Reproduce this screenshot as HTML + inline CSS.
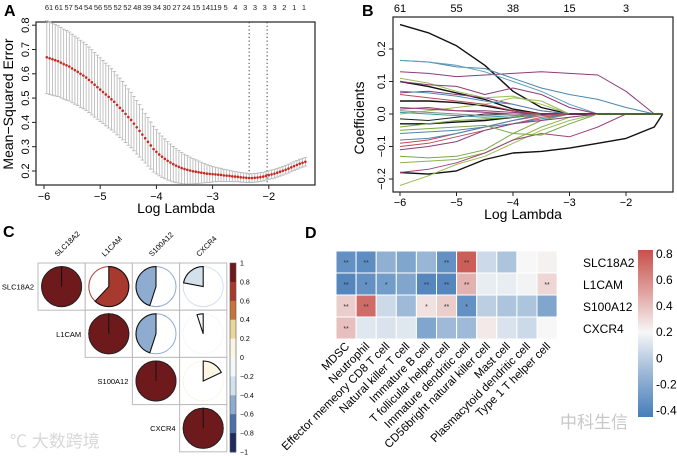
<!DOCTYPE html>
<html><head><meta charset="utf-8">
<style>
html,body{margin:0;padding:0;background:#fff;}
svg{display:block;font-family:"Liberation Sans","Noto Sans CJK SC",sans-serif;}
</style></head>
<body>
<svg id="fig" width="677" height="456" viewBox="0 0 677 456" xmlns="http://www.w3.org/2000/svg">
<text x="4" y="16" font-size="16" font-weight="bold">A</text>
<text x="362" y="16" font-size="16" font-weight="bold">B</text>
<text x="3" y="237" font-size="16" font-weight="bold">C</text>
<text x="305" y="238" font-size="16" font-weight="bold">D</text>
<g id="pa"></g>
<g id="pb"></g>
<g id="pc"></g>
<g id="pd"></g>
<text x="10" y="447" font-size="17" fill="#d8d8d8">℃ 大数跨境</text>
<text x="560" y="428" font-size="17" fill="#c8c8c8">中科生信</text>
</svg>
<script>
// ---------- Panel A data ----------
const aLambda0 = -5.95, aStep = 0.05;
const aMse = [.668,.664,.66,.656,.652,.646,.64,.635,.63,.622,
.615,.608,.6,.593,.585,.575,.565,.555,.545,.535,
.525,.515,.505,.495,.485,.472,.46,.448,.435,.422,
.41,.395,.38,.365,.35,.335,.32,.305,.29,.279,
.268,.259,.25,.242,.235,.228,.222,.217,.212,.208,
.205,.202,.199,.197,.195,.193,.191,.189,.188,.187,
.186,.185,.184,.182,.181,.18,.178,.177,.176,.174,
.173,.172,.171,.171,.172,.173,.175,.177,.18,.183,
.186,.189,.193,.197,.201,.205,.21,.215,.22,.225,
.23,.234,.238];
const aSe = [.15,.149,.148,.147,.146,.145,.144,.143,.142,.141,
.14,.139,.138,.137,.136,.135,.134,.133,.132,.131,
.13,.129,.128,.126,.125,.123,.122,.12,.118,.116,
.114,.112,.11,.108,.105,.102,.1,.097,.094,.091,
.088,.085,.082,.079,.076,.073,.07,.067,.064,.061,
.058,.055,.052,.049,.046,.043,.04,.037,.035,.032,
.03,.028,.027,.025,.024,.023,.022,.021,.02,.02,
.019,.019,.018];
const aTopLabels = ["61","61","57","54","54","56","55","52","52","48","39","34","30","27","24","15","14","119","5","4","3","3","3","3","2","1","1"];
const aXTicks = [-6,-5,-4,-3,-2];
const aYTicks = [0.2,0.3,0.4,0.5,0.6,0.7,0.8];
const aVLines = [-2.35,-2.03];
// ---------- Panel B data ----------
const bLambda = [-6,-5.5,-5,-4.5,-4,-3.5,-3,-2.5,-2,-1.5,-1.35];
const bPaths = [
[0.275,0.25,0.21,0.15,0.07,0.02,0],
[0.13,0.125,0.115,0.12,0.125,0.13,0.125,0.12,0.07,0,0],
[0.165,0.16,0.145,0.14,0.11,0.08,0.06,0.045,0.02,0],
[-0.18,-0.185,-0.175,-0.14,-0.12,-0.115,-0.105,-0.09,-0.075,-0.04,0],
[-0.22,-0.19,-0.155,-0.13,-0.09,-0.05,-0.02,0],
[-0.15,-0.145,-0.14,-0.12,-0.08,-0.04,-0.01,0],
[-0.18,-0.17,-0.15,-0.12,-0.08,-0.06,-0.07,-0.04,0],
[-0.13,-0.135,-0.13,-0.11,-0.06,-0.02,0],
[0.1,0.085,0.065,0.045,0.015,0],
[0.065,0.07,0.06,0.05,0.03,0.01,0],
[0.165,0.16,0.15,0.13,0.1,0.07,0.03,0],
[0.11,0.095,0.07,0.05,0.055,0.03,0],
[0.1,0.09,0.085,0.06,0.08,0.06,0.02,0],
[0.04,0.04,0.035,0.025,0.01,0],
[-0.1,-0.09,-0.07,-0.05,-0.03,-0.01,0],
[-0.06,-0.055,-0.05,-0.04,-0.03,-0.015,0],
[-0.03,-0.03,-0.025,-0.02,-0.01,0],
[-0.015,-0.02,-0.01,0,0],
[-0.09,-0.08,-0.06,-0.04,-0.02,-0.005,0],
[0,0.01,0.02,0.03,0.05,0.04,0],
[0.02,0.015,0.01,0.01,0.005,0],
[-0.08,-0.075,-0.06,-0.04,-0.02,0],
[0.005,0,-0.005,-0.01,-0.005,0],
[0.06,0.05,0.04,0.03,0.01,0],
[-0.04,-0.03,-0.02,-0.015,-0.01,0],
[-0.11,-0.1,-0.085,-0.05,-0.03,-0.02,-0.01,0],
[0.01,0.005,0,-0.005,0],
[0.07,0.065,0.055,0.04,0.03,0.01,0],
[0.015,0.02,0.01,0.005,0],
[-0.05,-0.045,-0.04,-0.035,-0.06,-0.065,-0.03,0]
];
const bColors = ["#111","#8e3b7a","#4f86b0","#111","#9cbc55","#8fb050","#a0427a","#7aa845","#111","#8e3b7a","#5aa0b8","#9cbc55","#8e3b7a","#111","#c0485a","#4f86b0","#111","#222","#c0485a","#9cbc55","#8e3b7a","#4f86b0","#3a9a9a","#c0485a","#7aa845","#8e3b7a","#888","#4f86b0","#a0427a","#7aa845"];
const bTopLabels = ["61","55","38","15","3"];
const bTopPos = [-6,-5,-4,-3,-2];
const bXTicks = [-6,-5,-4,-3,-2];
const bYTicks = [-0.2,-0.1,0.0,0.1,0.2];
// ---------- Panel C data ----------
const cGenes = ["SLC18A2","L1CAM","S100A12","CXCR4"];
const cCorr = [[1,0.62,-0.45,-0.22],[0.62,1,-0.45,-0.05],[-0.45,-0.45,1,0.18],[-0.22,-0.05,0.18,1]];
const cTicks = [1,0.8,0.6,0.4,0.2,0,-0.2,-0.4,-0.6,-0.8,-1];
const cBandColors = ["#6e1a1d","#a8392e","#c7753d","#ecd79a","#fbf6e4","#f5f8fb","#d3e1ed","#8eaccf","#4d70a6","#1d2c5c"];
// ---------- Panel D data ----------
const dCells = ["MDSC","Neutrophil","Effector memeory CD8 T cell","Natural killer T cell","Immature  B cell","T follicular helper cell","Immature dendritic cell","CD56bright natural killer cell","Mast cell","Plasmacytoid dendritic cell","Type 1 T helper cell"];
const dGenes = ["SLC18A2","L1CAM","S100A12","CXCR4"];
const dVals = [
[-0.3,-0.32,-0.15,-0.2,-0.12,-0.3,0.75,0.05,-0.05,0.2,0.22],
[-0.35,-0.3,-0.25,-0.2,-0.35,-0.35,0.45,0.15,0.15,0.18,0.32],
[0.35,0.7,0.05,-0.1,0.28,0.35,-0.3,0.0,-0.05,-0.05,-0.2],
[0.4,0.12,0.1,0.12,-0.2,-0.1,-0.1,0.25,0.1,0.05,0.2]];
const dStars = [
["**","**","","","","**","**","","","",""],
["**","*","*","","**","**","**","","","","**"],
["**","**","","","*","**","*","","","",""],
["**","","","","","","","","","",""]];
const dTicks = [0.8,0.6,0.4,0.2,0,-0.2,-0.4];

const NS="http://www.w3.org/2000/svg";
function mk(parent,tag,attrs,text){const e=document.createElementNS(NS,tag);for(const k in attrs)e.setAttribute(k,attrs[k]);if(text!==undefined)e.textContent=text;parent.appendChild(e);return e;}

// ================= Panel A =================
(function(){
const g=document.getElementById('pa');
const X=v=>44+(v+6)*56.2, Y=v=>171-(v-0.2)*243;
let r=mk(g,'rect',{x:36,y:22,width:279,height:163,fill:'none',stroke:'#222','stroke-width':1.2});

aXTicks.forEach(t=>{mk(g,'line',{x1:X(t),x2:X(t),y1:185,y2:189,stroke:'#222'});
 let tx=mk(g,'text',{x:X(t),y:200,'font-size':11,'text-anchor':'middle'},'\u2212'+Math.abs(t));
 });
aYTicks.forEach(t=>{mk(g,'line',{x1:32,x2:36,y1:Y(t),y2:Y(t),stroke:'#222'});
 let tx=mk(g,'text',{x:0,y:0,'font-size':11,'text-anchor':'middle',transform:`translate(29,${Y(t)}) rotate(-90)`},t.toFixed(1));
 });
let yl=mk(g,'text',{x:0,y:0,'font-size':14,'text-anchor':'middle',transform:'translate(13,104) rotate(-90)'},'Mean\u2212Squared Error');

let xl=mk(g,'text',{x:176,y:213,'font-size':14,'text-anchor':'middle'},'Log Lambda');

aTopLabels.forEach((s,i)=>{let tx=mk(g,'text',{x:49+i*(304-49)/(aTopLabels.length-1),y:10,'font-size':7.5,'text-anchor':'middle',fill:'#222'},s);
 });
aVLines.forEach(v=>{let l=mk(g,'line',{x1:X(v),x2:X(v),y1:22,y2:185,stroke:'#333','stroke-dasharray':'1.2,2.5'});
 });
aMse.forEach((m,i)=>{const lam=aLambda0+i*aStep, s=aSe[i]||0.018, x=X(lam);
 let eb=mk(g,'path',{d:`M${x},${Y(m+s)}V${Y(m-s)}M${x-1.8},${Y(m+s)}H${x+1.8}M${x-1.8},${Y(m-s)}H${x+1.8}`,stroke:'#b4b4b4','stroke-width':0.8,fill:'none'});
 });
aMse.forEach((m,i)=>{const lam=aLambda0+i*aStep;
 let c=mk(g,'circle',{cx:X(lam),cy:Y(m),r:1.3,fill:'#c62a22'});
 });
})();

// ================= Panel B =================
(function(){
const g=document.getElementById('pb');
const X=v=>400+(v+6)*56.5, Y=v=>114-v*325;
let r=mk(g,'rect',{x:393,y:17,width:280,height:175,fill:'none',stroke:'#222','stroke-width':1.2});

bXTicks.forEach(t=>{mk(g,'line',{x1:X(t),x2:X(t),y1:192,y2:196,stroke:'#222'});
 let tx=mk(g,'text',{x:X(t),y:206,'font-size':11,'text-anchor':'middle'},'\u2212'+Math.abs(t));
 });
bYTicks.forEach(t=>{mk(g,'line',{x1:389,x2:393,y1:Y(t),y2:Y(t),stroke:'#222'});
 let tx=mk(g,'text',{x:0,y:0,'font-size':11,'text-anchor':'middle',transform:`translate(385,${Y(t)}) rotate(-90)`},(t<0?'\u2212':'')+Math.abs(t).toFixed(1));
 });
bTopLabels.forEach((s,i)=>{let tx=mk(g,'text',{x:X(bTopPos[i]),y:12,'font-size':11,'text-anchor':'middle'},s);
 });
let yl=mk(g,'text',{x:0,y:0,'font-size':14,'text-anchor':'middle',transform:'translate(364,118) rotate(-90)'},'Coefficients');

let xl=mk(g,'text',{x:523,y:219,'font-size':14,'text-anchor':'middle'},'Log Lambda');

bPaths.forEach((p,k)=>{let d='';bLambda.forEach((l,i)=>{const v=i<p.length?p[i]:0;d+=(i?'L':'M')+X(l).toFixed(1)+','+Y(v).toFixed(1);});
 let pa=mk(g,'path',{d:d,fill:'none',stroke:bColors[k%bColors.length],'stroke-width':(bColors[k]=='#111'?1.4:1),'stroke-linejoin':'round'});
 });
})();

// ================= Panel C =================
(function(){
const g=document.getElementById('pc');
const x0=38,y0=263,cw=47.2,ch=47.2;
function colorOf(v){let i=Math.floor((1-v)/0.2+1e-9);if(i<0)i=0;if(i>9)i=9;return cBandColors[i];}
cGenes.forEach((gn,j)=>{let tx=mk(g,'text',{x:0,y:0,'font-size':7.5,transform:`translate(${x0+j*cw+cw/2-4},${y0-6}) rotate(-45)`},gn);
 });
cGenes.forEach((gn,i)=>{let tx=mk(g,'text',{x:x0+i*cw-4,y:y0+i*ch+ch/2+3,'font-size':7.5,'text-anchor':'end'},gn);
 
 for(let j=i;j<4;j++){const cx=x0+j*cw+cw/2, cy=y0+i*ch+ch/2, R=20, v=cCorr[i][j];
  let cell=mk(g,'rect',{x:x0+j*cw,y:y0+i*ch,width:cw,height:ch,fill:'#fff',stroke:'#bbb','stroke-width':1});
  
  const col=colorOf(v);
  let bg=mk(g,'circle',{cx:cx,cy:cy,r:R,fill:'#fff',stroke:col,'stroke-width':1});
  
  let pie;
  if(Math.abs(v)>=0.999){pie=mk(g,'circle',{cx:cx,cy:cy,r:R,fill:col,stroke:'#222','stroke-width':1});
   mk(g,'line',{x1:cx,y1:cy,x2:cx,y2:cy-R,stroke:'#111','stroke-width':1});}
  else{const a=Math.abs(v)*2*Math.PI*(v>0?1:-1);const ex=cx+R*Math.sin(a),ey=cy-R*Math.cos(a);
   const large=Math.abs(v)>0.5?1:0,sw=v>0?1:0;
   pie=mk(g,'path',{d:`M${cx},${cy}L${cx},${cy-R}A${R},${R} 0 ${large} ${sw} ${ex},${ey}Z`,fill:col,stroke:'#111','stroke-width':1.1});}
  
 }});
const bx=230,by=263,bh=189;
cBandColors.forEach((c,i)=>{let b=mk(g,'rect',{x:bx,y:by+i*bh/10,width:6,height:bh/10+0.5,fill:c});
 });
mk(g,'rect',{x:bx,y:by,width:6,height:bh,fill:'none',stroke:'#555','stroke-width':0.6});
cTicks.forEach((t,i)=>{let tx=mk(g,'text',{x:bx+10,y:by+i*bh/10+2.5,'font-size':7},(t<0?'\u2212':'')+(Math.abs(t)===1||t===0?Math.abs(t):Math.abs(t).toFixed(1)));
 });
})();

// ================= Panel D =================
(function(){
const g=document.getElementById('pd');
const x0=336,y0=251,cw=20.1,ch=22;
function lerp(a,b,t){return a.map((v,i)=>Math.round(v+(b[i]-v)*t));}
function col(v){const B=[70,125,185],W=[247,247,247],R=[200,80,75];
 if(v<0.2){let t=Math.min(1,(0.2-v)/0.6);return 'rgb('+lerp(W,B,t)+')';}
 let t=Math.min(1,(v-0.2)/0.6);return 'rgb('+lerp(W,R,t)+')';}
dVals.forEach((row,i)=>{row.forEach((v,j)=>{
 let r=mk(g,'rect',{x:x0+j*cw,y:y0+i*ch,width:cw,height:ch,fill:col(v),stroke:'#fff','stroke-width':1});
 
 if(dStars[i][j]){let s=mk(g,'text',{x:x0+j*cw+cw/2,y:y0+i*ch+ch/2+3,'font-size':7,'text-anchor':'middle',fill:'#333'},dStars[i][j]);
  }
 });
 let tx=mk(g,'text',{x:583,y:y0+i*ch+ch/2+5,'font-size':12},dGenes[i]);
 });
dCells.forEach((c,j)=>{let tx=mk(g,'text',{x:0,y:0,'font-size':11.5,'text-anchor':'end',transform:`translate(${x0+j*cw+cw/2+4},${y0+4*ch+8}) rotate(-45)`},c);
 });
const defs=mk(g,'defs',{});const lg=mk(defs,'linearGradient',{id:'dgrad',x1:0,y1:0,x2:0,y2:1});
const ytop=250,ybot=417,vt=0.83,vb=-0.45;
[0.83,0.5,0.2,-0.1,-0.45].forEach(v=>mk(lg,'stop',{offset:((vt-v)/(vt-vb)),'stop-color':col(v)}));
let cb=mk(g,'rect',{x:638,y:ytop,width:15,height:ybot-ytop,fill:'url(#dgrad)'});

dTicks.forEach(t=>{const y=ytop+(vt-t)/(vt-vb)*(ybot-ytop);
 let tx=mk(g,'text',{x:656,y:y+4,'font-size':12},(t<0?'-':'')+(t===0?'0':Math.abs(t).toFixed(1)));
 });
})();
</script>
</body></html>
